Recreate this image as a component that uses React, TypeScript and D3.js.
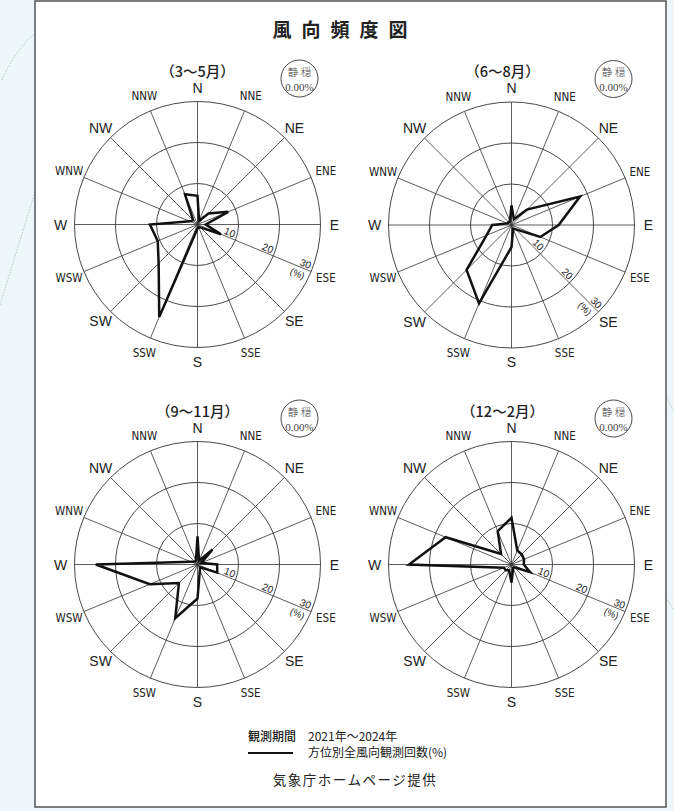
import * as d3 from "d3"

// 16方位（北から時計回り）
const directions = ["N", "NNE", "NE", "ENE", "E", "ESE", "SE", "SSE", "S", "SSW", "SW", "WSW", "W", "WNW", "NW", "NNW"]
const majorDirections = ["N", "NE", "E", "SE", "S", "SW", "W", "NW"]

// 季節別の風向頻度（%）
const spring = [7.0, 1.0, 3.8, 8.1, 2.0, 6.2, 1.0, 0.8, 1.0, 24.4, 13.4, 10.5, 11.6, 2.0, 1.5, 8.0]
const summer = [4.8, 1.5, 5.3, 18.1, 11.5, 7.6, 1.5, 1.0, 5.4, 20.7, 15.5, 6.6, 4.7, 1.0, 1.0, 1.0]
const autumn = [6.9, 1.0, 5.2, 1.0, 4.8, 5.2, 1.0, 1.5, 8.3, 14.2, 6.4, 12.6, 24.8, 1.8, 1.0, 1.0]
const winter = [11.4, 3.7, 3.5, 3.3, 3.0, 4.9, 1.0, 1.0, 4.4, 1.5, 2.0, 2.0, 25.0, 17.4, 3.6, 8.8]

const seasonTitles = ["（3～5月）", "（6～8月）", "（9～11月）", "（12～2月）"]
const calmValues = ["0.00%", "0.00%", "0.00%", "0.00%"]
const ringTicks = [10, 20, 30]
const tickAxis = ["ESE", "SE", "ESE", "ESE"]

const seasonValues = [spring, summer, autumn, winter]

// レイアウト
const panels = [
  { cx: 197.5, cy: 224.5, titleDx: 0 },
  { cx: 511.5, cy: 225, titleDx: -9 },
  { cx: 197.5, cy: 564.5, titleDx: 0 },
  { cx: 511.5, cy: 564.5, titleDx: -9 },
]

const sans = "'Liberation Sans', Arial, sans-serif"
const narrow = "'Liberation Sans Narrow', 'DejaVu Sans Condensed', 'Liberation Sans', sans-serif"
const jp = "'Noto Sans CJK JP', 'Noto Sans CJK SC', sans-serif"

const r = d3.scaleLinear().domain([0, 30]).range([0, 123])
const angle = d3.scaleLinear().domain([0, directions.length]).range([0, 2 * Math.PI])

function Rose({ i }: { i: number }) {
  const { cx, cy, titleDx } = panels[i]
  const values = seasonValues[i]
  const path = d3
    .lineRadial<number>()
    .angle((_, k) => angle(k))
    .radius((d) => r(d))
    .curve(d3.curveLinearClosed)(values)

  const axisAngle = angle(directions.indexOf(tickAxis[i]))
  const rot = (axisAngle * 180) / Math.PI - 90

  return (
    <g transform={`translate(${cx},${cy})`}>
      {/* 同心円 */}
      {ringTicks.map((t) => (
        <circle key={t} r={r(t)} fill="none" stroke="#333" strokeWidth={0.9} />
      ))}
      {/* 放射線 */}
      {directions.map((d, k) => {
        const [x, y] = d3.pointRadial(angle(k), r(30))
        return <line key={d} x1={0} y1={0} x2={x} y2={y} stroke="#333" strokeWidth={0.8} />
      })}
      {/* 頻度 */}
      <path d={path ?? ""} fill="none" stroke="#111" strokeWidth={2.5} strokeLinejoin="miter" />
      {/* 方位ラベル */}
      {directions.map((d, k) => {
        const major = majorDirections.includes(d)
        const [x, y] = d3.pointRadial(angle(k), r(30) + (major ? 14 : 16))
        return (
          <text
            key={d}
            x={x}
            y={y}
            textAnchor="middle"
            dominantBaseline="central"
            fontFamily={major ? sans : narrow}
            fontSize={major ? 14 : 11.5}
            fill="#222"
          >
            {d}
          </text>
        )
      })}
      {/* 目盛 */}
      <g transform={`rotate(${rot})`}>
        {ringTicks.map((t) => (
          <text key={t} x={r(t) - 2.5} y={-1.5} textAnchor="end" fontFamily={sans} fontSize={10} fill="#222">
            {t}
          </text>
        ))}
        <text x={r(30) - 12} y={10.5} textAnchor="middle" fontFamily={sans} fontSize={9.5} fill="#222">
          (%)
        </text>
      </g>
      {/* タイトル */}
      <text x={titleDx} y={-148} textAnchor="middle" fontFamily={jp} fontSize={14.5} fontWeight={500} fill="#222">
        {seasonTitles[i]}
      </text>
      {/* 静穏 */}
      <g transform="translate(102,-146)">
        <circle r={18.5} fill="none" stroke="#333" strokeWidth={0.9} />
        <text y={-3} textAnchor="middle" fontFamily={jp} fontSize={10.5} fontWeight={300} fill="#444">
          静 穏
        </text>
        <text y={12} textAnchor="middle" fontFamily="'Liberation Serif', serif" fontSize={11} fill="#444">
          {calmValues[i]}
        </text>
      </g>
    </g>
  )
}

export default function App() {
  return (
    <svg
      width={674}
      height={811}
      style={{ position: "absolute", left: 0, top: 0, display: "block" }}
    >
      <rect width={674} height={811} fill="#eef6fc" />
      {/* 背景の点線 */}
      <g fill="none" stroke="#b8c4be" strokeWidth={1} strokeDasharray="1.5,1.5">
        <path d="M0,305 L35,192" />
        <path d="M2,80 Q14,52 34,34" />
        <path d="M666,395 Q670,405 674,412" />
        <path d="M666,598 Q670,604 674,610" />
      </g>
      <rect x={35} y={1} width={631} height={806} fill="#fff" stroke="#555" strokeWidth={1.5} />

      <text x={345} y={37} textAnchor="middle" fontFamily={jp} fontSize={19} fontWeight="bold" letterSpacing={10} fill="#222">
        風向頻度図
      </text>

      {seasonValues.map((_, i) => (
        <Rose key={i} i={i} />
      ))}

      {/* 凡例 */}
      <text x={248} y={741} fontFamily={jp} fontSize={12} fontWeight={500} fill="#222">
        観測期間
      </text>
      <text x={308} y={741} fontFamily={jp} fontSize={12} fill="#222">
        2021年～2024年
      </text>
      <line x1={248} x2={293} y1={753} y2={753} stroke="#111" strokeWidth={1.8} />
      <text x={308} y={757} fontFamily={jp} fontSize={12} fill="#222">
        方位別全風向観測回数(%)
      </text>
      <text x={355} y={785} textAnchor="middle" fontFamily={jp} fontSize={13.5} letterSpacing={1.5} fill="#222">
        気象庁ホームページ提供
      </text>
    </svg>
  )
}
